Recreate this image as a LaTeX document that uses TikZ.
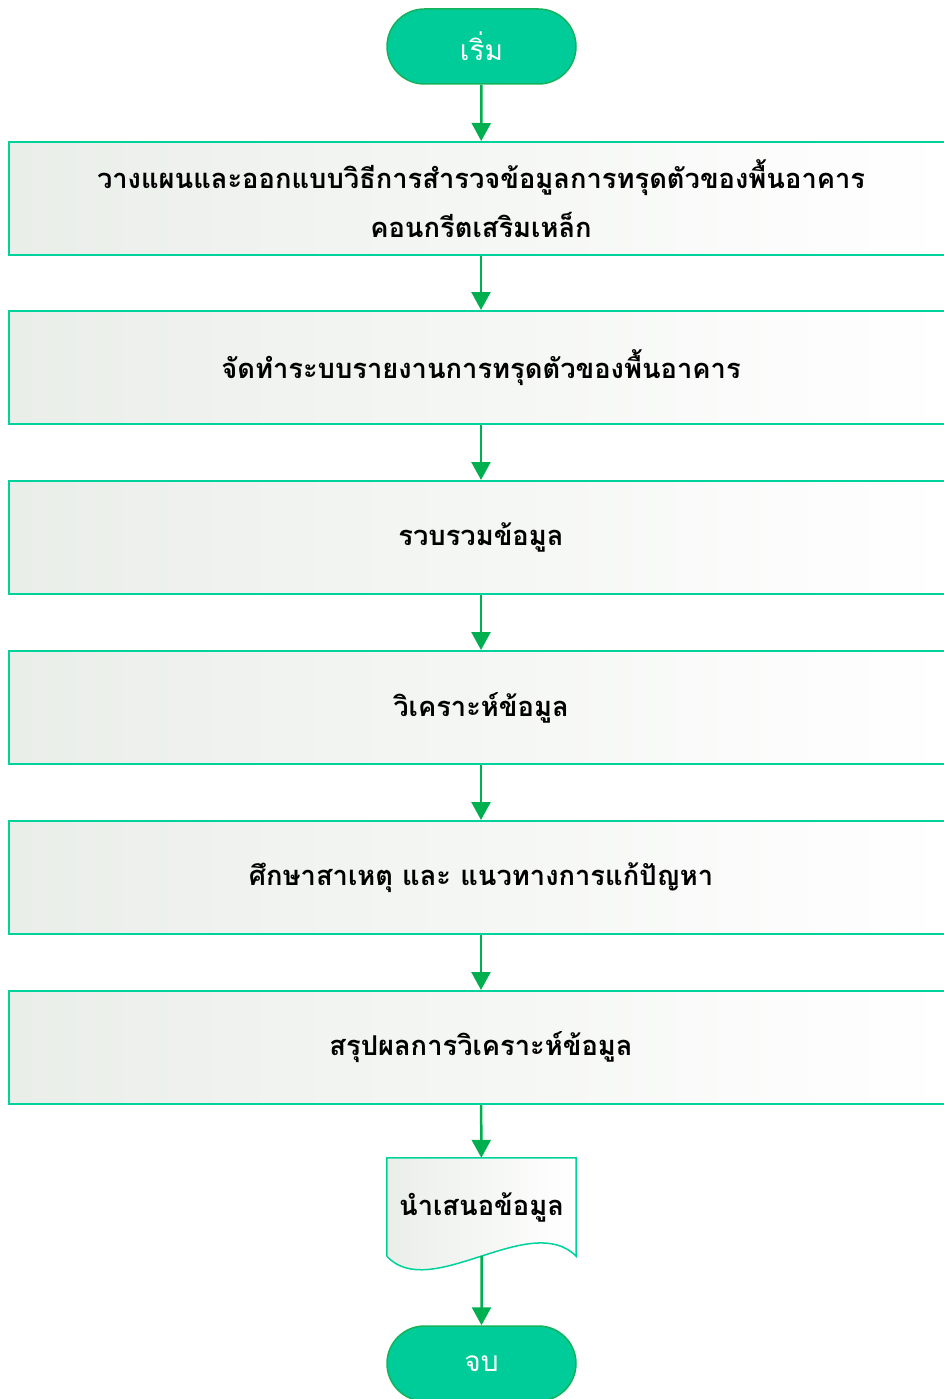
\documentclass[tikz,border=0pt]{standalone}
\usepackage{fontspec}
\newfontfamily\thaifont[Script=Thai]{Loma}
\usetikzlibrary{arrows.meta,shapes.misc,backgrounds}
\definecolor{termfill}{RGB}{0,204,153}
\definecolor{termline}{RGB}{20,178,90}
\definecolor{flowgreen}{RGB}{0,176,80}
\definecolor{boxline}{RGB}{0,210,155}
\definecolor{boxshade}{RGB}{234,238,233}

\begin{document}
\begin{tikzpicture}[x=1pt,y=-1pt,
  terminal/.style={rounded rectangle,draw=termline,line width=1.5pt,fill=termfill,minimum width=189pt,minimum height=75pt,inner sep=0pt,text=white,font=\thaifont\fontsize{28}{32}\selectfont},
  process/.style={rectangle,draw=boxline,line width=2pt,left color=boxshade,right color=white,minimum width=944pt,minimum height=113pt,inner sep=0pt,align=center,font=\thaifont\bfseries\fontsize{27.3}{49}\selectfont},
  flow/.style={draw=flowgreen,line width=2.5pt,-{Triangle[length=18pt,width=19pt]}}]
\useasboundingbox (0,0) rectangle (943,1399);
\node[terminal] (start) at (481.5,46.5) {เริ่ม};
\node[process] (plan) at (481,198.5) {วางแผนและออกแบบวิธีการสำรวจข้อมูลการทรุดตัวของพื้นอาคาร\\คอนกรีตเสริมเหล็ก};
\node[process] (report) at (481,367.5) {จัดทำระบบรายงานการทรุดตัวของพื้นอาคาร};
\node[process] (collect) at (481,537.5) {รวบรวมข้อมูล};
\node[process] (analyse) at (481,707.5) {วิเคราะห์ข้อมูล};
\node[process] (cause) at (481,877.5) {ศึกษาสาเหตุ และ แนวทางการแก้ปัญหา};
\node[process] (summary) at (481,1047.5) {สรุปผลการวิเคราะห์ข้อมูล};
% document shape, wavy bottom
\node[minimum width=189pt,minimum height=98pt,inner sep=0pt,font=\thaifont\bfseries\fontsize{27.3}{32}\selectfont] (present) at (481.5,1207) {นำเสนอข้อมูล};
\coordinate (presentbot) at (481.5,1256);
\begin{scope}[on background layer]
\fill[left color=boxshade,right color=white] (present.south west) -- (present.north west) -- (present.north east) -- (present.south east)
  .. controls (530,1210) and (430,1303) .. (present.south west) -- cycle;
\end{scope}
\draw[boxline,line width=1.5pt] (present.south west) -- (present.north west) -- (present.north east) -- (present.south east)
  .. controls (530,1210) and (430,1303) .. (present.south west);
\node[terminal] (stop) at (481.5,1363.5) {จบ};
% connectors
\draw[flow] (start) -- (plan);
\draw[flow] (plan) -- (report);
\draw[flow] (report) -- (collect);
\draw[flow] (collect) -- (analyse);
\draw[flow] (analyse) -- (cause);
\draw[flow] (cause) -- (summary);
\draw[flow] (summary) -- (present);
\draw[flow] (presentbot) -- (stop);
\end{tikzpicture}
\end{document}
